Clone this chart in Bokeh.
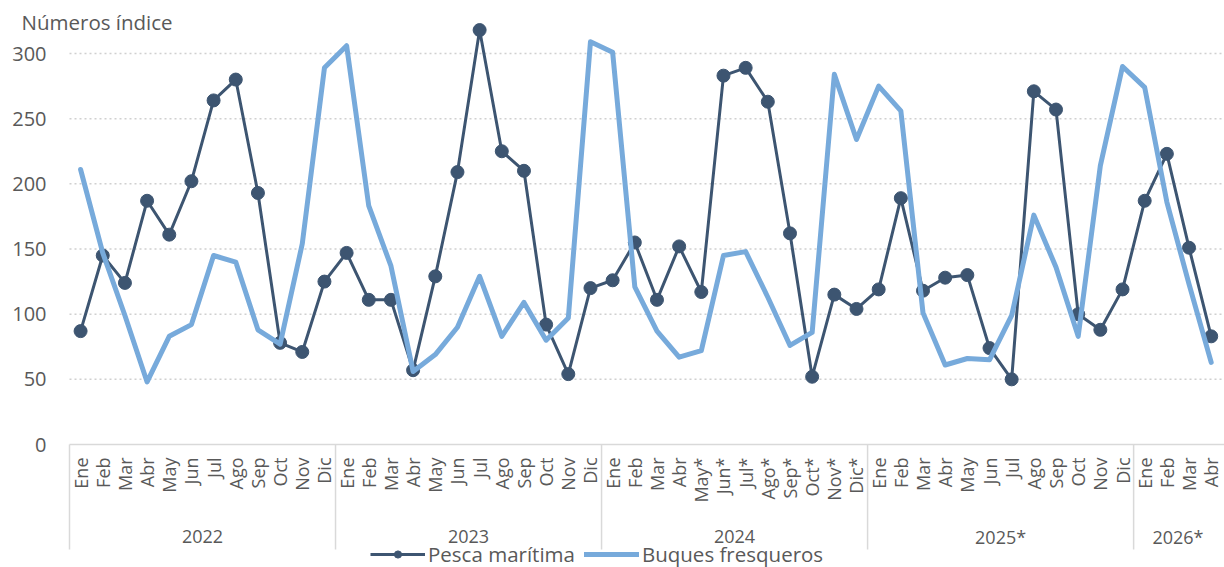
from math import pi
from bokeh.plotting import figure
from bokeh.models import Range1d, Legend, LegendItem, ColumnDataSource
from bokeh.core.properties import value
from bokeh.embed import file_html
from bokeh.resources import INLINE

# ---------------- data ----------------
years = ["2022", "2023", "2024", "2025*", "2026*"]
months_2022 = ["Ene", "Feb", "Mar", "Abr", "May", "Jun", "Jul", "Ago", "Sep", "Oct", "Nov", "Dic"]
months_2023 = ["Ene", "Feb", "Mar", "Abr", "May", "Jun", "Jul", "Ago", "Sep", "Oct", "Nov", "Dic"]
months_2024 = ["Ene", "Feb", "Mar", "Abr", "May*", "Jun*", "Jul*", "Ago*", "Sep*", "Oct*", "Nov*", "Dic*"]
months_2025 = ["Ene", "Feb", "Mar", "Abr", "May", "Jun", "Jul", "Ago", "Sep", "Oct", "Nov", "Dic"]
months_2026 = ["Ene", "Feb", "Mar", "Abr"]
month_groups = [months_2022, months_2023, months_2024, months_2025, months_2026]

pesca_maritima = [87, 145, 124, 187, 161, 202, 264, 280, 193, 78, 71, 125,
                  147, 111, 111, 57, 129, 209, 318, 225, 210, 92, 54, 120,
                  126, 155, 111, 152, 117, 283, 289, 263, 162, 52, 115, 104,
                  119, 189, 118, 128, 130, 74, 50, 271, 257, 100, 88, 119,
                  187, 223, 151, 83]
buques_fresqueros = [211, 147, 99, 48, 83, 92, 145, 140, 88, 77, 154, 289,
                     306, 183, 137, 56, 69, 90, 129, 83, 109, 80, 97, 309,
                     301, 121, 87, 67, 72, 145, 148, 113, 76, 86, 284, 234,
                     275, 256, 101, 61, 66, 65, 99, 176, 136, 83, 214, 290,
                     274, 186, 123, 63]
y_ticks = [0, 50, 100, 150, 200, 250, 300]
y_title = "Números índice"

# ---------------- layout constants (pixels) ----------------
FONT = "Open Sans"
GRAY = "#595959"
DARK = "#3d5571"
LIGHT = "#77aadb"
SEP = "#d9d9d9"
GRID = "#d0d0d0"

W, H = 1224, 567
PLOT_LEFT = 69            # pixel column where the first category band starts
AXIS_Y = 444              # pixel row of value 0 (from figure top)
PX_PER_UNIT = 391 / 300.0
X_FIRST, X_END = -0.5, 51.6
PX_PER_CAT = (W - PLOT_LEFT) / (X_END - X_FIRST)
X_START = X_FIRST - PLOT_LEFT / PX_PER_CAT
Y_MAX = AXIS_Y / PX_PER_UNIT
Y_MIN = -(H - AXIS_Y) / PX_PER_UNIT


def dy(px):
    return px / PX_PER_UNIT


def xpix(px):
    return X_START + px / PX_PER_CAT


# ---------------- derived positions ----------------
month_labels = [m for g in month_groups for m in g]
x = list(range(len(month_labels)))
group_bounds = []
year_centers = []
start = 0
for g in month_groups:
    group_bounds.append(start - 0.5)
    year_centers.append(start + (len(g) - 1) / 2)
    start += len(g)

p = figure(width=W, height=H, output_backend="svg", toolbar_location=None,
           x_range=Range1d(X_START, X_END), y_range=Range1d(Y_MIN, Y_MAX),
           x_axis_type=None, y_axis_type=None, min_border=0)
p.outline_line_color = None

# value axis: dotted grid lines and labels
grid_src = ColumnDataSource(dict(x0=[X_FIRST] * (len(y_ticks) - 1), x1=[X_END] * (len(y_ticks) - 1),
                                 y=y_ticks[1:]))
p.segment(x0="x0", y0="y", x1="x1", y1="y", source=grid_src, line_color=GRID,
          line_width=1.5, line_dash="2 3")
ylab_src = ColumnDataSource(dict(x=[xpix(46)] * len(y_ticks), y=y_ticks,
                                 t=[str(v) for v in y_ticks]))
p.text(x="x", y="y", text="t", source=ylab_src, text_align="right", text_baseline="middle",
       text_font=value(FONT), text_font_size=value("20px"), text_color=GRAY)
p.text(x=[xpix(21)], y=[dy(AXIS_Y - 21)], text=[y_title], text_align="left",
       text_baseline="middle", text_font=value(FONT), text_font_size=value("20.5px"),
       text_color=GRAY)

# category axis
p.segment(x0=[X_FIRST], y0=[0], x1=[X_END], y1=[0], line_color=SEP, line_width=1.5)
sep_src = ColumnDataSource(dict(x=group_bounds, y0=[0] * len(group_bounds),
                                y1=[-dy(105)] * len(group_bounds)))
p.segment(x0="x", y0="y0", x1="x", y1="y1", source=sep_src, line_color=SEP, line_width=1.5)

month_src = ColumnDataSource(dict(x=x, y=[-dy(13)] * len(x), t=month_labels))
p.text(x="x", y="y", text="t", source=month_src, angle=pi / 2,
       text_align="right", text_baseline="middle", text_font=value(FONT),
       text_font_size=value("18px"), text_color=GRAY)

year_src = ColumnDataSource(dict(x=year_centers, y=[-dy(92)] * len(years), t=years))
p.text(x="x", y="y", text="t", source=year_src, text_align="center",
       text_baseline="middle", text_font=value(FONT),
       text_font_size=value("18px"), text_color=GRAY)

# series
r_dark_line = p.line(x, pesca_maritima, line_color=DARK, line_width=3, line_join="round")
r_dark_pts = p.scatter(x, pesca_maritima, size=13, fill_color=DARK, line_color=DARK)
r_light = p.line(x, buques_fresqueros, line_color=LIGHT, line_width=5, line_join="round",
                 line_cap="round")

legend = Legend(items=[LegendItem(label="Pesca marítima", renderers=[r_dark_line, r_dark_pts]),
                       LegendItem(label="Buques fresqueros", renderers=[r_light])],
                orientation="horizontal", location=(370, -1),
                glyph_width=55, glyph_height=18, label_standoff=3, spacing=9,
                padding=0, margin=0, border_line_color=None, background_fill_alpha=0,
                label_text_font=FONT, label_text_font_size="20.5px", label_text_color=GRAY,
                label_height=18)
p.add_layout(legend)

open("out.html", "w").write(file_html(p, INLINE))
